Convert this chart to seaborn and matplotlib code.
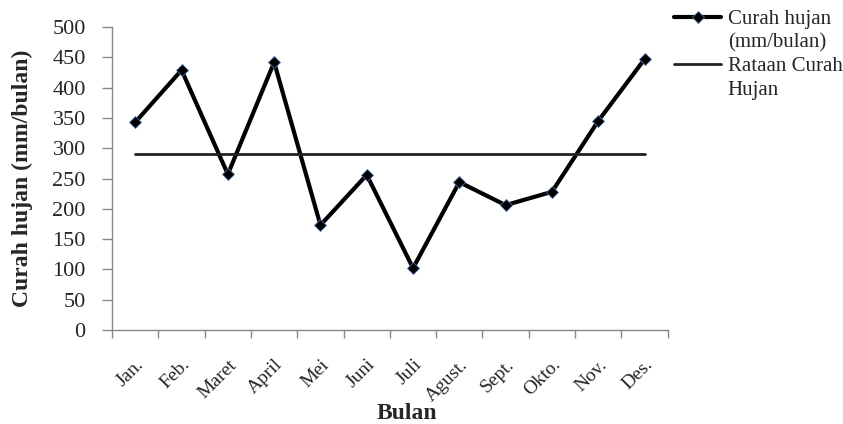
import matplotlib
matplotlib.use("Agg")
import matplotlib.pyplot as plt
import seaborn as sns
import pandas as pd
from matplotlib.lines import Line2D
from matplotlib.ticker import FixedLocator, NullFormatter

# Monthly rainfall (mm/month)
months = ["Jan.", "Feb.", "Maret", "April", "Mei", "Juni", "Juli",
          "Agust.", "Sept.", "Okto.", "Nov.", "Des."]
rainfall = [343, 429, 257, 442, 173, 256, 102, 244, 206, 228, 345, 447]
mean_rainfall = [290] * 12

sns.set_theme(style="white")
plt.rcParams["font.family"] = ["Liberation Serif", "DejaVu Serif"]

df = pd.DataFrame({"pos": range(len(months)), "bulan": months,
                   "curah": rainfall, "rataan": mean_rainfall})

fig = plt.figure(figsize=(8.43, 4.24), dpi=100)
ax = fig.add_axes([0.133, 0.222, 0.659, 0.714])

sns.lineplot(data=df, x="pos", y="curah", ax=ax, color="black", lw=3,
             marker="D", markersize=6.5, markerfacecolor="black",
             markeredgecolor="#4a6fa5", markeredgewidth=0.6, legend=False)
sns.lineplot(data=df, x="pos", y="rataan", ax=ax, color="#222222", lw=2,
             legend=False)

ax.set_xlim(-0.5, len(months) - 0.5)
ax.set_ylim(0, 500)
ax.set_yticks(range(0, 501, 50))
ax.tick_params(axis="y", labelsize=16, length=7, width=1, color="#888888",
               direction="out", pad=12, left=True)

# category axis: tick marks between categories, labels at centres
ax.xaxis.set_major_locator(FixedLocator([i - 0.5 for i in range(len(months) + 1)]))
ax.xaxis.set_major_formatter(NullFormatter())
ax.xaxis.set_minor_locator(FixedLocator(list(range(len(months)))))
ax.set_xticklabels(months, minor=True, rotation=45, ha="right",
                   rotation_mode="anchor", fontsize=14)
ax.tick_params(axis="x", which="major", length=6, width=1, color="#888888",
               direction="out", bottom=True)
ax.tick_params(axis="x", which="minor", length=0, pad=19)

for side in ("top", "right"):
    ax.spines[side].set_visible(False)
for side in ("left", "bottom"):
    ax.spines[side].set_color("#888888")
    ax.spines[side].set_linewidth(1)

ax.set_ylabel("Curah hujan (mm/bulan)", fontsize=17, fontweight="bold",
              labelpad=14)
ax.set_xlabel("")
fig.text(0.483, 0.0, "Bulan", fontsize=17, fontweight="bold",
         ha="center", va="bottom")

# legend: marker line beside the first text line of each entry
blank = Line2D([], [], color="none")
handles = [
    Line2D([], [], color="black", lw=3, marker="D", markersize=6.5,
           markerfacecolor="black", markeredgecolor="#4a6fa5",
           markeredgewidth=0.6),
    blank,
    Line2D([], [], color="#222222", lw=2),
    blank,
]
labels = ["Curah hujan", "(mm/bulan)", "Rataan Curah", "Hujan"]
fig.legend(handles, labels, loc="upper left",
           bbox_to_anchor=(0.799, 0.978), frameon=False, fontsize=15,
           handlelength=2.3, handletextpad=0.3, labelspacing=0.2,
           borderpad=0, borderaxespad=0)

fig.savefig("out.png", dpi=100)
